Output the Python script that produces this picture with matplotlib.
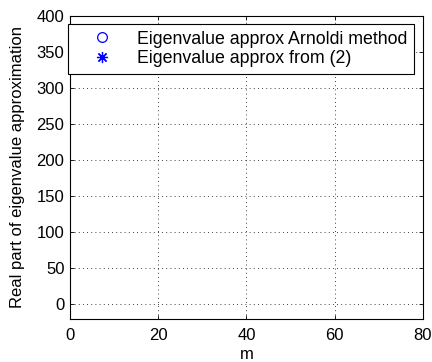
import matplotlib
matplotlib.use("Agg")
import matplotlib.pyplot as plt

# data (the reference plot shows no data points, only the legend entries)
m_values = []
arnoldi_real = []
formula_real = []

x_ticks = [0, 20, 40, 60, 80]
y_ticks = [0, 50, 100, 150, 200, 250, 300, 350, 400]

plt.rcParams['font.family'] = ['Liberation Sans', 'DejaVu Sans']
plt.rcParams['font.size'] = 12

fig = plt.figure(figsize=(4.32, 3.62), dpi=100)
ax = fig.add_axes([0.162, 0.119, 0.817, 0.837])

ax.plot(m_values, arnoldi_real, 'o', color='blue', mfc='none', ms=7, mew=0.9,
        label='Eigenvalue approx Arnoldi method')
ax.plot(m_values, formula_real, marker=(8, 2, 0), linestyle='none', color='blue',
        ms=8, mew=0.9, label='Eigenvalue approx from (2)')

ax.set_xlim(0, 80)
ax.set_ylim(-20, 400)
ax.set_xticks(x_ticks)
ax.set_yticks(y_ticks)
ax.grid(True, linestyle=(0, (1, 4)), color='black', linewidth=0.6)
ax.tick_params(direction='in', top=True, right=True, length=3, width=0.6)
ax.tick_params(axis='x', pad=6.5)
ax.tick_params(axis='y', pad=4)
for s in ax.spines.values():
    s.set_linewidth(0.8)

ax.set_xlabel('m', labelpad=3)
ax.set_ylabel('Real part of eigenvalue approximation', labelpad=8)

leg = ax.legend(loc='upper left', bbox_to_anchor=(-0.006, 0.812, 0.980, 0.162),
                mode='expand', borderaxespad=0,
                fancybox=False, edgecolor='black', framealpha=1,
                handlelength=3.1, handletextpad=0.41, borderpad=0.38,
                labelspacing=0.15, fontsize=12.8)
leg.get_frame().set_linewidth(0.8)

fig.savefig('out.png', dpi=100)
